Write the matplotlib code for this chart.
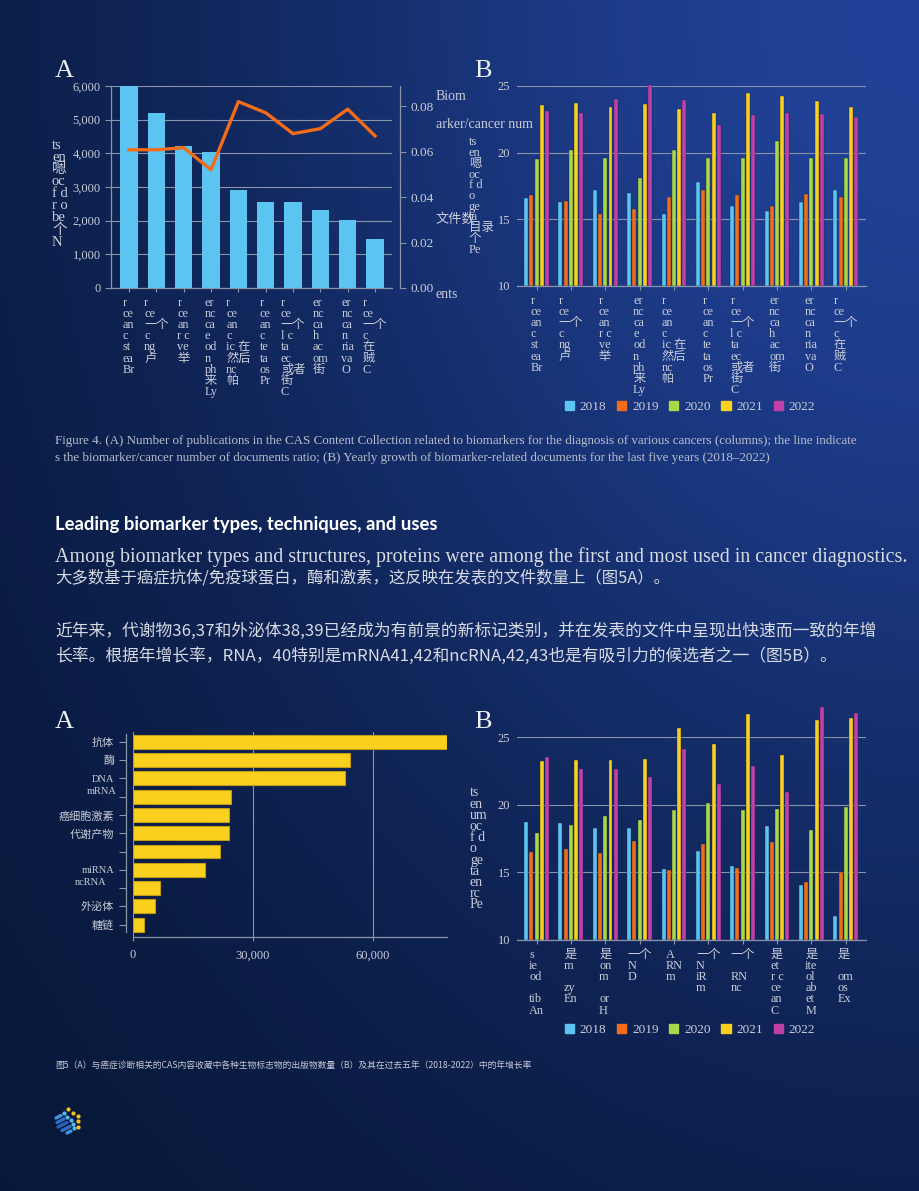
import numpy as np
import matplotlib
matplotlib.use('Agg')
import matplotlib.pyplot as plt
from matplotlib.patches import Patch
from matplotlib.ticker import FuncFormatter

W, H = 920, 1191
SERIF = ['Liberation Serif', 'Noto Sans CJK SC']
CJK = ['Noto Sans CJK SC', 'Liberation Serif']
plt.rcParams['font.family'] = SERIF

TXT = '#c8cdd8'
GRID = '#8a94a8'
BAR_BLUE = '#5bc4f0'
LINE_ORANGE = '#f26c1a'
BAR_YELLOW = '#fbd01e'
YEARS = ['2018', '2019', '2020', '2021', '2022']
YEAR_COLORS = ['#5bc4f0', '#f26c1a', '#a8d948', '#fbd01e', '#c040a8']

# ---- data ----
cancer_labels = [
    "r\nce\nan\nc\nst\nea\nBr",
    "r\nce\n一个\nc\nng\n卢",
    "r\nce\nan\nr c\nve\n举",
    "er\nnc\nca\ne\nod\nn\nph\n来\nLy",
    "r\nce\nan\nc\nic 在\n然后\nnc\n帕",
    "r\nce\nan\nc\nte\nta\nos\nPr",
    "r\nce\n一个\nl c\nta\nec\n或者\n街\nC",
    "er\nnc\nca\nh\nac\nom\n街",
    "er\nnc\nca\nn\nria\nva\nO",
    "r\nce\n一个\nc\n在\n贼\nC",
]
fig4a_docs = [6000, 5200, 4220, 4040, 2900, 2545, 2545, 2325, 2026, 1467]
fig4a_ratio = [0.0609, 0.0609, 0.0618, 0.0521, 0.0821, 0.0772, 0.0680, 0.0702, 0.0788, 0.0670]

fig4b_2018 = [16.6, 16.3, 17.2, 17.0, 15.4, 17.8, 16.0, 15.6, 16.3, 17.2]
fig4b_2019 = [16.8, 16.4, 15.4, 15.8, 16.7, 17.2, 16.8, 16.0, 16.9, 16.7]
fig4b_2020 = [19.5, 20.2, 19.6, 18.1, 20.2, 19.6, 19.6, 20.9, 19.6, 19.6]
fig4b_2021 = [23.6, 23.7, 23.4, 23.65, 23.3, 22.95, 24.45, 24.25, 23.9, 23.45]
fig4b_2022 = [23.1, 22.95, 24.0, 25.1, 23.95, 22.1, 22.8, 22.95, 22.9, 22.65]

marker_labels = ['抗体', '酶', 'DNA', '', '癌细胞激素', '代谢产物', '', 'miRNA', '', '外泌体', '糖链']
marker_counts = [78500, 54360, 52950, 24520, 23940, 23940, 21780, 17950, 6820, 5570, 2740]

fig5b_labels = [
    "s\nie\nod\n\ntib\nAn",
    "是\nm\n\nzy\nEn",
    "是\non\nm\n\nor\nH",
    "一个\nN\nD",
    "A\nRN\nm",
    "一个\nN\niR\nm",
    "一个\n\nRN\nnc",
    "是\net\nr c\nce\nan\nC",
    "是\nite\nol\nab\net\nM",
    "是\n\nom\nos\nEx",
]
fig5b_2018 = [18.7, 18.65, 18.3, 18.3, 15.25, 16.6, 15.45, 18.4, 14.05, 11.8]
fig5b_2019 = [16.5, 16.75, 16.45, 17.3, 15.15, 17.1, 15.3, 17.25, 14.3, 15.0]
fig5b_2020 = [17.9, 18.5, 19.15, 18.85, 19.6, 20.15, 19.6, 19.7, 18.15, 19.85]
fig5b_2021 = [23.2, 23.3, 23.3, 23.4, 25.7, 24.45, 26.7, 23.65, 26.25, 26.4]
fig5b_2022 = [23.55, 22.6, 22.65, 22.05, 24.15, 21.5, 22.85, 20.95, 27.2, 26.75]

fig = plt.figure(figsize=(W / 100, H / 100), dpi=100)


def px_axes(l, t, r, b, **kw):
    return fig.add_axes([l / W, 1 - b / H, (r - l) / W, (b - t) / H], **kw)


def ftext(x, y, s, **kw):
    kw.setdefault('color', TXT)
    return fig.text(x / W, 1 - y / H, s, **kw)


# ---- background gradient + logo ----
bg = fig.add_axes([0, 0, 1, 1], zorder=-5)
yy, xx = np.mgrid[0:H, 0:W]
d = np.hypot(W - xx, 0.75 * yy)
w = 0.75 * np.exp(-(d / 700) ** 2) + 0.25 * np.exp(-(d / 1600) ** 2)
dark = np.array([3, 16, 40]) / 255
light = np.array([33, 66, 152]) / 255
bg.imshow(dark + w[..., None] * (light - dark), extent=(0, W, H, 0), aspect='auto')
for (x0, y0, x1, y1, c) in [(56, 1118, 61, 1115.5, '#3f94dc'), (57, 1122.5, 64, 1119, '#2f70c6'),
                            (58, 1127, 67, 1122.5, '#2a62b8'), (62, 1130.5, 70, 1126.5, '#2f70c6'),
                            (67, 1133, 71, 1131, '#3f94dc')]:
    bg.plot([x0, x1], [y0, y1], color=c, lw=2.4, solid_capstyle='round')
bg.scatter([64, 67.5, 71, 73, 74], [1113, 1116.5, 1120, 1124, 1128], s=4, color='#5bb8ee')
bg.scatter([68, 73, 78, 78, 78], [1109, 1112.5, 1115.5, 1121, 1126.5], s=4, color='#f5c518')
bg.set_xlim(0, W)
bg.set_ylim(H, 0)
bg.axis('off')


def style_ticks(ax, size=9):
    ax.tick_params(colors=GRID, labelcolor=TXT, labelsize=size, width=0.8)
    for s in ax.spines.values():
        s.set_color(GRID)
        s.set_linewidth(0.9)
    ax.patch.set_alpha(0)


# ---- Figure 4A ----
ax = px_axes(111, 86, 392, 288)
x = np.arange(len(fig4a_docs))
ax.bar(x, fig4a_docs, width=0.63, color=BAR_BLUE, zorder=2)
ax.set_xlim(-0.66, 9.62)
ax.set_ylim(0, 6000)
ax.set_yticks(range(0, 6001, 1000))
ax.yaxis.set_major_formatter(FuncFormatter(lambda v, p: f'{int(v):,}'))
ax.grid(axis='y', color=GRID, lw=0.8, zorder=0)
ax.set_xticks(x)
ax.set_xticklabels(cancer_labels, linespacing=0.9, multialignment='left')
ax.spines['top'].set_visible(False)
ax.spines['right'].set_visible(False)
style_ticks(ax)
ax.tick_params(axis='x', length=3, labelsize=8.8)
ax.tick_params(axis='y', length=4)
ax2 = ax.twinx()
ax2.plot(x, fig4a_ratio, color=LINE_ORANGE, lw=2.4, zorder=3)
ax2.set_ylim(0, 0.089)
ax2.set_yticks([0, 0.02, 0.04, 0.06, 0.08])
ax2.yaxis.set_major_formatter(FuncFormatter(lambda v, p: f'{v:.2f}'))
ax2.spines['right'].set_position(('outward', 6))
for s in ['top', 'left', 'bottom']:
    ax2.spines[s].set_visible(False)
style_ticks(ax2, 9.5)
ax2.tick_params(axis='y', length=4)

ftext(55, 71, 'A', fontsize=19, va='center', color='#eef0f4')
ftext(52, 194, 'ts\nen\n嗯\noc\nf d\nr o\nbe\n个\nN', fontsize=10.5, va='center', linespacing=0.9)
ftext(436, 96, 'Biom', fontsize=10, va='center')
ftext(436, 125, 'arker/cancer num', fontsize=10, va='center')
ftext(436, 219, '文件数', fontsize=9.5, va='center', family=CJK)
ftext(436, 294, 'ents', fontsize=10, va='center')


def grouped(ax, series, labels):
    n = len(series[0])
    xg = np.arange(n)
    for i, (vals, c) in enumerate(zip(series, YEAR_COLORS)):
        v = np.array(vals)
        ax.bar(xg + (i - 2) * 0.152, v - 10, bottom=10, width=0.116, color=c,
               edgecolor='#1a2a50', linewidth=0.3, zorder=2, clip_on=False)
    ax.set_xlim(-0.57, 9.59)
    ax.set_ylim(10, 25)
    ax.set_yticks([10, 15, 20, 25])
    ax.grid(axis='y', color=GRID, lw=0.8, zorder=0)
    ax.set_xticks(xg)
    ax.set_xticklabels(labels, linespacing=0.9, multialignment='left')
    for s in ['top', 'right', 'left']:
        ax.spines[s].set_visible(False)
    style_ticks(ax)
    ax.tick_params(axis='x', length=3, labelsize=8.8)
    ax.tick_params(axis='y', length=0, labelsize=9, pad=5)


def year_legend(y):
    handles = [Patch(color=c, label=yr) for yr, c in zip(YEARS, YEAR_COLORS)]
    leg = fig.legend(handles=handles, loc='center', bbox_to_anchor=(690 / W, 1 - y / H), ncol=5,
                     frameon=False, handlelength=0.7, handleheight=0.7, handletextpad=0.45,
                     columnspacing=0.8, fontsize=9.5)
    for t in leg.get_texts():
        t.set_color(TXT)


# ---- Figure 4B ----
axb = px_axes(517, 86, 866, 286)
grouped(axb, [fig4b_2018, fig4b_2019, fig4b_2020, fig4b_2021, fig4b_2022], cancer_labels)
ftext(474, 71, 'B', fontsize=19, va='center', color='#eef0f4')
ftext(469, 196, 'ts\nen\n嗯\noc\nf d\no\nge\nta\n目录\n个\nPe', fontsize=9, va='center', linespacing=0.86)
year_legend(407)

# ---- captions and paragraphs ----
ftext(55, 441, 'Figure 4. (A) Number of publications in the CAS Content Collection related to biomarkers for the diagnosis of various cancers (columns); the line indicate',
      fontsize=9.4, va='center', color='#b9bfcc')
ftext(55, 458, 's the biomarker/cancer number of documents ratio; (B) Yearly growth of biomarker-related documents for the last five years (2018–2022)',
      fontsize=9.4, va='center', color='#b9bfcc')
ftext(55, 524, 'Leading biomarker types, techniques, and uses', fontsize=13.3, va='center',
      family='Lato', weight='bold', color='#ffffff')
ftext(55, 557, 'Among biomarker types and structures, proteins were among the first and most used in cancer diagnostics.',
      fontsize=14.4, va='center', color='#d6dae3')
ftext(55, 578, '大多数基于癌症抗体/免疫球蛋白，酶和激素，这反映在发表的文件数量上（图5A）。',
      fontsize=11.8, va='center', family=CJK, color='#d6dae3')
ftext(55, 631, '近年来，代谢物36,37和外泌体38,39已经成为有前景的新标记类别，并在发表的文件中呈现出快速而一致的年增',
      fontsize=12.1, va='center', family=CJK, color='#d6dae3')
ftext(55, 656, '长率。根据年增长率，RNA，40特别是mRNA41,42和ncRNA,42,43也是有吸引力的候选者之一（图5B）。',
      fontsize=12.1, va='center', family=CJK, color='#d6dae3')

# ---- Figure 5A ----
axc = px_axes(133, 732, 447, 937)
yb = np.arange(len(marker_counts))
axc.barh(yb, marker_counts, height=0.76, color=BAR_YELLOW, edgecolor='#c29c18', linewidth=0.8, zorder=2)
axc.set_ylim(10.67, -0.53)
axc.set_xlim(0, 78500)
axc.set_xticks([0, 30000, 60000])
axc.xaxis.set_major_formatter(FuncFormatter(lambda v, p: f'{int(v):,}'))
axc.grid(axis='x', color=GRID, lw=0.8, zorder=0)
axc.set_yticks(yb)
axc.set_yticklabels(marker_labels, family=CJK)
axc.spines['top'].set_visible(False)
axc.spines['right'].set_visible(False)
axc.spines['left'].set_position(('outward', 5))
axc.spines['left'].set_bounds(-0.4, 10.4)
style_ticks(axc)
axc.tick_params(axis='y', length=5, labelsize=8)
axc.tick_params(axis='x', length=3, labelsize=9, pad=6)
for lab in axc.get_yticklabels():
    if lab.get_text().isascii():
        lab.set_fontfamily(SERIF)
        lab.set_fontsize(7.5)
axc.text(-0.052, 2.72, 'mRNA', transform=axc.get_yaxis_transform(), ha='right', va='center',
         fontsize=7.5, color=TXT)
axc.text(-0.084, 7.71, 'ncRNA', transform=axc.get_yaxis_transform(), ha='right', va='center',
         fontsize=7.5, color=TXT)
ftext(55, 722, 'A', fontsize=19, va='center', color='#eef0f4')

# ---- Figure 5B ----
axd = px_axes(517, 737, 866, 940)
grouped(axd, [fig5b_2018, fig5b_2019, fig5b_2020, fig5b_2021, fig5b_2022], fig5b_labels)
ftext(474, 722, 'B', fontsize=19, va='center', color='#eef0f4')
ftext(470, 849, 'ts\nen\num\noc\nf d\no\nge\nta\nen\nrc\nPe', fontsize=10, va='center', linespacing=0.82)
year_legend(1030)

ftext(55, 1065, '图5（A）与癌症诊断相关的CAS内容收藏中各种生物标志物的出版物数量（B）及其在过去五年（2018-2022）中的年增长率',
      fontsize=6.3, va='center', family=CJK, color='#c5cad6')

fig.savefig('out.png', dpi=100)
